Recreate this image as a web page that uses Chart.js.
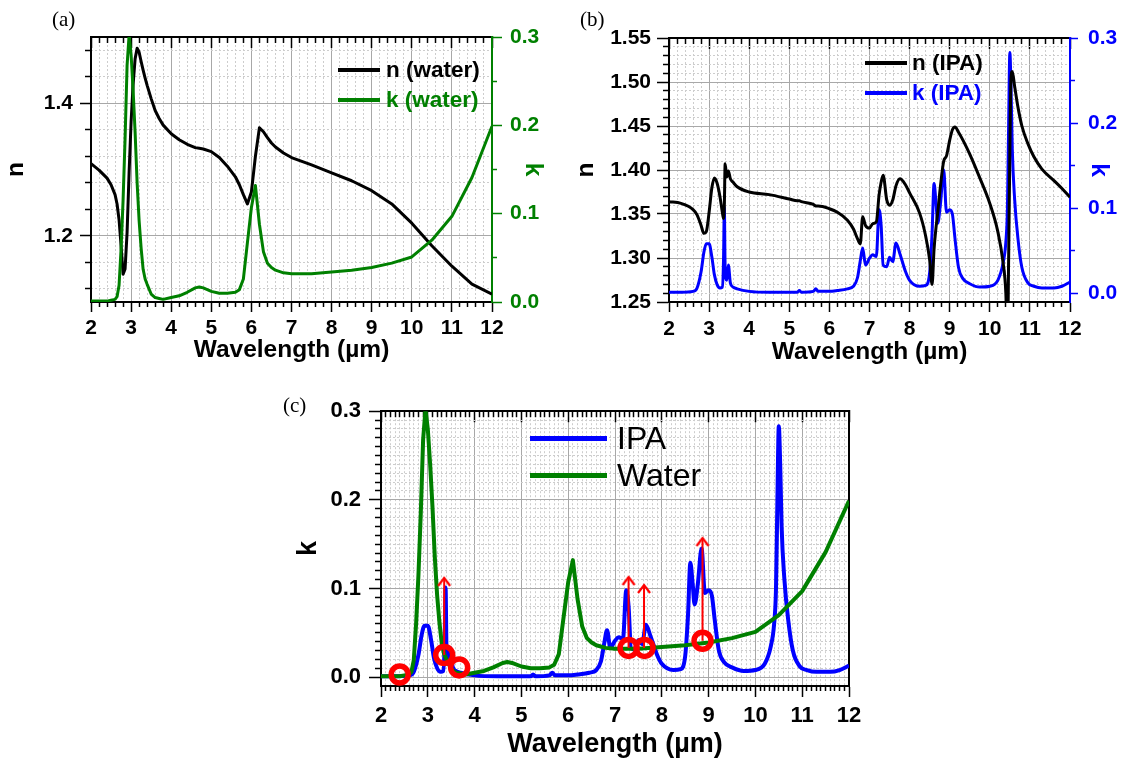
<!DOCTYPE html>
<html>
<head>
<meta charset="utf-8">
<script src="https://cdn.jsdelivr.net/npm/chart.js@4.4.1/dist/chart.umd.min.js"></script>
<style>
  body { margin:0; background:#fff; width:1124px; height:762px; position:relative; overflow:hidden; font-family:"Liberation Sans", Arial, sans-serif; }
  .box { position:absolute; }
  .tag { position:absolute; font-family:"Liberation Serif", "Times New Roman", serif; font-size:21px; line-height:1; }
  .row { position:absolute; display:flex; align-items:center; white-space:nowrap; line-height:1; }
  .row .ln { display:inline-block; }
</style>
</head>
<body>
<div class="box" style="left:0;top:0;width:560px;height:380px"><canvas id="cA"></canvas></div>
<div class="box" style="left:560px;top:0;width:564px;height:380px"><canvas id="cB"></canvas></div>
<div class="box" style="left:280px;top:390px;width:600px;height:372px"><canvas id="cC"></canvas></div>

<div class="tag" style="left:52px;top:9px">(a)</div>
<div class="tag" style="left:580px;top:9px">(b)</div>
<div class="tag" style="left:283px;top:395px">(c)</div>

<!-- legends -->
<div class="row" style="left:338px;top:59px;font-weight:bold;font-size:22.5px;color:#000"><span class="ln" style="width:42px;height:4px;background:#000;margin-right:6px"></span>n (water)</div>
<div class="row" style="left:338px;top:89px;font-weight:bold;font-size:22.5px;color:#008000"><span class="ln" style="width:42px;height:4px;background:#008000;margin-right:6px"></span>k (water)</div>
<div class="row" style="left:865px;top:52px;font-weight:bold;font-size:22.5px;color:#000"><span class="ln" style="width:42px;height:4px;background:#000;margin-right:5px"></span>n (IPA)</div>
<div class="row" style="left:865px;top:82px;font-weight:bold;font-size:22.5px;color:#0000ff"><span class="ln" style="width:42px;height:4px;background:#0000ff;margin-right:5px"></span>k (IPA)</div>
<div class="row" style="left:530px;top:422px;font-size:32px;color:#000"><span class="ln" style="width:77px;height:5px;background:#0000ff;margin-right:10px"></span>IPA</div>
<div class="row" style="left:530px;top:459px;font-size:32px;color:#000"><span class="ln" style="width:77px;height:5px;background:#008000;margin-right:10px"></span>Water</div>

<script>
// ── Data ─────────────────────────────────────────────────────────
const wlWater = [2.0, 2.2, 2.4, 2.5, 2.6, 2.65, 2.7, 2.75, 2.8, 2.85, 2.9, 2.95, 3.0, 3.05, 3.1, 3.15,
  3.2, 3.25, 3.3, 3.35, 3.4, 3.5, 3.6, 3.7, 3.8, 4.0, 4.2, 4.4, 4.6, 4.7, 4.8, 5.0, 5.2, 5.4, 5.6, 5.7,
  5.8, 5.9, 6.0, 6.1, 6.2, 6.3, 6.4, 6.5, 6.6, 6.8, 7.0, 7.5, 8.0, 8.5, 9.0, 9.5, 10.0, 10.5, 11.0, 11.5, 12.0];
const nWater = [1.309, 1.299, 1.287, 1.277, 1.262, 1.248, 1.224, 1.185, 1.142, 1.150, 1.205, 1.295, 1.372, 1.428, 1.467, 1.483,
  1.477, 1.463, 1.450, 1.438, 1.427, 1.407, 1.389, 1.377, 1.367, 1.354, 1.345, 1.338, 1.333, 1.332, 1.331, 1.327, 1.318, 1.305, 1.289, 1.277,
  1.262, 1.248, 1.266, 1.320, 1.363, 1.357, 1.348, 1.340, 1.334, 1.325, 1.318, 1.307, 1.295, 1.283, 1.268, 1.248, 1.219, 1.185, 1.154, 1.127, 1.112];
const kWater = [0.001, 0.001, 0.001, 0.002, 0.003, 0.006, 0.019, 0.060, 0.115, 0.185, 0.268, 0.302, 0.280, 0.240, 0.192, 0.135,
  0.092, 0.061, 0.037, 0.026, 0.020, 0.009, 0.005, 0.004, 0.003, 0.005, 0.007, 0.011, 0.016, 0.017, 0.016, 0.012, 0.010, 0.010, 0.011, 0.014,
  0.026, 0.067, 0.107, 0.132, 0.088, 0.057, 0.044, 0.039, 0.036, 0.033, 0.032, 0.032, 0.034, 0.036, 0.039, 0.044, 0.051, 0.070, 0.097, 0.141, 0.199];

const wlIpa = [2.0, 2.3, 2.6, 2.7, 2.8, 2.87, 2.93, 3.0, 3.07, 3.13, 3.2, 3.27, 3.33, 3.36, 3.38, 3.40, 3.44, 3.48, 3.53, 3.6,
  3.7, 4.0, 4.5, 5.0, 5.2, 5.25, 5.3, 5.6, 5.66, 5.72, 6.0, 6.2, 6.45, 6.6, 6.7, 6.77, 6.83, 6.9, 7.0, 7.08,
  7.17, 7.24, 7.29, 7.34, 7.43, 7.5, 7.58, 7.66, 7.76, 7.9, 8.0, 8.25, 8.4, 8.5, 8.56, 8.61, 8.66, 8.7, 8.77, 8.85,
  8.92, 9.0, 9.07, 9.13, 9.22, 9.33, 9.5, 9.75, 10.0, 10.2, 10.33, 10.4, 10.44, 10.47, 10.5, 10.53, 10.56, 10.62, 10.7, 10.8,
  10.95, 11.1, 11.3, 11.6, 11.8, 12.0];
const nIpa = [1.364, 1.362, 1.355, 1.349, 1.337, 1.328, 1.330, 1.352, 1.380, 1.391, 1.385, 1.370, 1.352, 1.345, 1.360, 1.407, 1.392, 1.399, 1.390, 1.386,
  1.381, 1.375, 1.372, 1.367, 1.365, 1.365, 1.364, 1.361, 1.359, 1.359, 1.356, 1.352, 1.343, 1.333, 1.322, 1.316, 1.347, 1.337, 1.334, 1.339,
  1.341, 1.372, 1.386, 1.394, 1.366, 1.360, 1.366, 1.382, 1.390, 1.383, 1.374, 1.351, 1.325, 1.298, 1.270, 1.310, 1.335, 1.351, 1.382, 1.410,
  1.416, 1.434, 1.446, 1.449, 1.443, 1.434, 1.418, 1.391, 1.362, 1.330, 1.295, 1.260, 1.200, 1.300, 1.420, 1.505, 1.512, 1.495, 1.472, 1.450,
  1.430, 1.415, 1.401, 1.388, 1.379, 1.369];
const kIpa = [0.001, 0.001, 0.002, 0.006, 0.025, 0.048, 0.058, 0.058, 0.042, 0.022, 0.010, 0.006, 0.007, 0.040, 0.101, 0.030, 0.015, 0.033, 0.012, 0.007,
  0.005, 0.002, 0.001, 0.001, 0.001, 0.003, 0.001, 0.002, 0.005, 0.002, 0.002, 0.003, 0.005, 0.008, 0.018, 0.038, 0.053, 0.033, 0.041, 0.045,
  0.043, 0.098, 0.080, 0.033, 0.031, 0.042, 0.037, 0.059, 0.046, 0.025, 0.015, 0.008, 0.009, 0.024, 0.070, 0.129, 0.105, 0.082, 0.105, 0.145,
  0.095, 0.098, 0.092, 0.065, 0.030, 0.017, 0.011, 0.007, 0.008, 0.015, 0.035, 0.060, 0.100, 0.200, 0.283, 0.240, 0.170, 0.110, 0.065, 0.030,
  0.012, 0.008, 0.006, 0.006, 0.008, 0.013];

// red markers in (c)
const markX = [2.4, 3.35, 3.67, 7.29, 7.63, 8.87];
const markK = [0.003, 0.025, 0.011, 0.033, 0.033, 0.041];
const arrowX = [3.35, 7.29, 7.62, 8.87];
const arrowFrom = [0.025, 0.033, 0.033, 0.041];
const arrowTo = [0.112, 0.113, 0.104, 0.157];

// tick labels
const xTicks = [2, 3, 4, 5, 6, 7, 8, 9, 10, 11, 12];
const nTicksA = [1.2, 1.4];
const kTicks = [0, 0.1, 0.2, 0.3];
const nTicksB = [1.25, 1.30, 1.35, 1.40, 1.45, 1.50, 1.55];

// ── Helpers ───────────────────────────────────────────────────────
const FONT = '"Liberation Sans", Arial, sans-serif';
const GREEN = '#008000', BLUE = '#0000ff', RED = '#ff0000';
const MAJOR_GRID = '#a8a8a8', MINOR_GRID = '#cdcdcd';

function range(a, b, s) {
  const out = [];
  for (let i = 0; a + i * s <= b + 1e-9; i++) out.push(Math.round((a + i * s) * 1e4) / 1e4);
  return out;
}
function without(list, major) {
  return list.filter(v => !major.some(m => Math.abs(m - v) < 1e-6));
}
const pts = (xs, ys) => xs.map((x, i) => ({ x, y: ys[i] }));

function axis(o) {
  const horiz = o.pos === 'top' || o.pos === 'bottom';
  const isEdge = v => Math.abs(v - o.min) < 1e-9 || Math.abs(v - o.max) < 1e-9;
  return {
    type: 'linear', axis: horiz ? 'x' : 'y', position: o.pos, display: true,
    min: o.min, max: o.max, weight: o.weight || 0,
    afterBuildTicks: s => { s.ticks = o.values.map(v => ({ value: v })); },
    afterFit: s => { if (horiz) s.height = o.size || 0; else s.width = o.size || 0; },
    grid: {
      display: true,
      drawOnChartArea: !!o.grid,
      color: c => (!o.grid || (c.tick && isEdge(c.tick.value))) ? 'rgba(0,0,0,0)' : o.grid,
      lineWidth: 1,
      drawTicks: o.tl !== 0,
      tickLength: o.tl,
      tickColor: o.color || '#000',
      tickWidth: o.tw || 1.5,
      tickBorderDash: []
    },
    border: { display: !!o.border, color: o.border || '#000', width: 2, dash: o.dash || [] },
    ticks: {
      display: !!o.fmt, autoSkip: false, minRotation: 0, maxRotation: 0, padding: o.pad || 0,
      color: o.color || '#000',
      font: { family: FONT, size: o.fs || 21, weight: 'bold' },
      callback: v => (o.fmt ? o.fmt(v) : '')
    },
    title: o.title ? {
      display: true, text: o.title, color: o.color || '#000',
      font: { family: FONT, size: o.tfs || 24.5, weight: 'bold' },
      padding: horiz ? { top: 0, bottom: o.tpad } : { top: o.tpad, bottom: 0 }
    } : { display: false }
  };
}

function baseOptions(padding, scales) {
  return {
    responsive: true, maintainAspectRatio: false, animation: false, events: [],
    layout: { padding },
    plugins: { legend: { display: false }, tooltip: { enabled: false } },
    scales
  };
}

function line(data, x, y, color, width, smooth) {
  return {
    data, xAxisID: x, yAxisID: y, showLine: true, borderColor: color, borderWidth: width,
    pointRadius: 0, borderJoinStyle: 'round',
    cubicInterpolationMode: smooth ? 'monotone' : 'default', tension: 0
  };
}

// x axes shared by all three panels (frame + ticks + grid)
function xAxes(minorStep, size, tfs, fs, tpad, pad, tl) {
  const minor = without(range(2, 12, minorStep), xTicks);
  return {
    x: axis({ pos: 'bottom', min: 2, max: 12, values: xTicks, size, weight: 1, tl: tl, pad, fs,
      fmt: v => String(v), grid: MAJOR_GRID, border: '#000', title: 'Wavelength (\u00b5m)', tfs, tpad }),
    xMinor: axis({ pos: 'bottom', min: 2, max: 12, values: minor, tl: 5, grid: MINOR_GRID, dash: [2, 2] }),
    xTop: axis({ pos: 'top', min: 2, max: 12, values: xTicks, tl: -11, border: '#000', weight: 1 }),
    xTopMinor: axis({ pos: 'top', min: 2, max: 12, values: minor, tl: -6 })
  };
}

// ── (a) water n & k ───────────────────────────────────────────────
new Chart(document.getElementById('cA'), {
  type: 'scatter',
  data: { datasets: [
    line(pts(wlWater, kWater), 'x', 'k', GREEN, 3, false),
    line(pts(wlWater, nWater), 'x', 'n', '#000', 3, false)
  ] },
  options: baseOptions({ top: 37, left: 0, right: 0, bottom: 0 }, Object.assign(xAxes(0.2, 78, 24.5, 21, 15, 4, 10), {
    n: axis({ pos: 'left', min: 1.1, max: 1.5, values: nTicksA, size: 91, weight: 1, tl: 11, pad: 7,
      fmt: v => v.toFixed(1), grid: MAJOR_GRID, border: '#000', title: 'n', tpad: 2 }),
    nMinor: axis({ pos: 'left', min: 1.1, max: 1.5, values: without(range(1.12, 1.48, 0.04), nTicksA),
      tl: 6, grid: MINOR_GRID, dash: [2, 2] }),
    k: axis({ pos: 'right', min: 0, max: 0.3, values: kTicks, size: 68, weight: 1, tl: 10, pad: 8,
      fmt: v => v.toFixed(1), border: GREEN, color: GREEN, title: 'k', tpad: 13 }),
    kMinor: axis({ pos: 'right', min: 0, max: 0.3, values: [0.05, 0.15, 0.25], tl: 5, color: GREEN })
  }))
});

// ── (b) IPA n & k ─────────────────────────────────────────────────
new Chart(document.getElementById('cB'), {
  type: 'scatter',
  data: { datasets: [
    line(pts(wlIpa, nIpa), 'x', 'n', '#000', 3, true),
    line(pts(wlIpa, kIpa), 'x', 'k', BLUE, 3, true)
  ] },
  options: baseOptions({ top: 38, left: 0, right: 0, bottom: 0 }, Object.assign(xAxes(0.2, 78, 24.5, 21, 13, 5, 10), {
    n: axis({ pos: 'left', min: 1.25, max: 1.55, values: nTicksB, size: 109, weight: 1, tl: 12, pad: 6,
      fmt: v => v.toFixed(2), grid: MAJOR_GRID, border: '#000', title: 'n', tpad: 12 }),
    nMinor: axis({ pos: 'left', min: 1.25, max: 1.55, values: without(range(1.26, 1.54, 0.01), nTicksB),
      tl: 6, grid: MINOR_GRID, dash: [2, 2] }),
    k: axis({ pos: 'right', min: -0.0105, max: 0.3, values: kTicks, size: 54, weight: 1, tl: 8, pad: 10,
      fmt: v => v.toFixed(1), border: BLUE, color: BLUE, title: 'k', tpad: 11 }),
    kMinor: axis({ pos: 'right', min: -0.0105, max: 0.3, values: [0.05, 0.15, 0.25], tl: 5, color: BLUE })
  }))
});

// ── (c) k of IPA and water with marked points ─────────────────────
const arrowHead = (() => {
  const c = document.createElement('canvas');
  c.width = 16; c.height = 22;
  const g = c.getContext('2d');
  g.strokeStyle = RED; g.lineWidth = 2.2; g.lineJoin = 'miter';
  g.beginPath(); g.moveTo(2, 19); g.lineTo(8, 11); g.lineTo(14, 19); g.stroke();
  return c;
})();

const arrows = arrowX.map((x, i) => ({
  data: [{ x, y: arrowFrom[i] }, { x, y: arrowTo[i] }],
  xAxisID: 'x', yAxisID: 'k', showLine: true, borderColor: RED, borderWidth: 2,
  pointRadius: c => (c.dataIndex === 1 ? 6 : 0),
  pointStyle: c => (c.dataIndex === 1 ? arrowHead : 'circle'),
  pointBorderWidth: 0
}));

new Chart(document.getElementById('cC'), {
  type: 'scatter',
  data: { datasets: [
    { data: pts(markX, markK), xAxisID: 'x', yAxisID: 'k', showLine: false,
      pointRadius: 8.5, pointBorderWidth: 5.5, pointBorderColor: RED, pointBackgroundColor: 'rgba(0,0,0,0)' },
    ...arrows,
    line(pts(wlWater, kWater), 'x', 'k', GREEN, 4, false),
    line(pts(wlIpa, kIpa), 'x', 'k', BLUE, 4, true)
  ] },
  options: baseOptions({ top: 14, left: 0, right: 31, bottom: 0 }, Object.assign(xAxes(0.1, 76, 27, 22, 1, 6, 11), {
    k: axis({ pos: 'left', min: -0.01, max: 0.3, values: kTicks, size: 101, weight: 1, tl: 12, pad: 8, fs: 22,
      fmt: v => v.toFixed(1), grid: MAJOR_GRID, border: '#000', title: 'k', tfs: 27, tpad: 12 }),
    kMinor: axis({ pos: 'left', min: -0.01, max: 0.3, values: without(range(0.01, 0.29, 0.01), kTicks),
      tl: 6, grid: MINOR_GRID, dash: [2, 2] }),
    frameRight: axis({ pos: 'right', min: -0.01, max: 0.3, values: [0.3], tl: 0, border: '#000' })
  }))
});
</script>
</body>
</html>
